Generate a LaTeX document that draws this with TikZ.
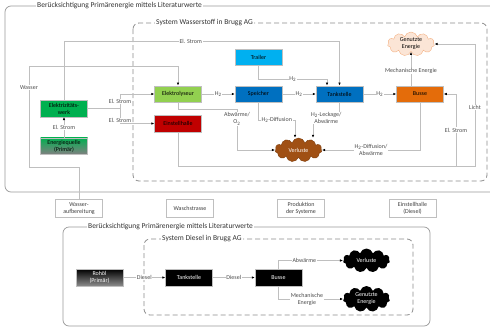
\documentclass[tikz,border=0pt]{standalone}
\usepackage{fontspec}
\setmainfont{Carlito}
\usetikzlibrary{arrows.meta,shapes.symbols}
\definecolor{linie}{RGB}{191,191,191}
\definecolor{werkgruen}{RGB}{0,176,80}
\definecolor{hellgruen}{RGB}{146,208,80}
\definecolor{hallenrot}{RGB}{192,0,0}
\definecolor{hellblau}{RGB}{0,176,240}
\definecolor{blau}{RGB}{0,112,192}
\definecolor{busorange}{RGB}{228,108,10}
\definecolor{pfirsich}{RGB}{251,229,214}
\definecolor{pfirsichrand}{RGB}{244,177,131}
\definecolor{braun}{RGB}{160,80,20}
\begin{document}
\begin{tikzpicture}[x=1pt,y=-1pt]
\tikzset{
kasten/.style={draw=white!75!black,line width=0.5pt,minimum width=47pt,minimum height=16.5pt,inner sep=1pt,font=\fontsize{6}{7}\selectfont,align=center},
aussen/.style={kasten,fill=white,text=black!75,minimum height=18pt},
wolke/.style={cloud,cloud puffs=11,cloud ignores aspect,minimum width=47pt,minimum height=24pt,inner sep=0pt,align=center,font=\fontsize{6}{7}\selectfont},
fluss/.style={draw=linie,line width=0.8pt,-{Latex[length=3pt,width=2.6pt,color=black]}},
leitung/.style={draw=linie,line width=0.8pt},
lbl/.style={fill=white,inner sep=0.6pt,font=\fontsize{6}{7}\selectfont,text=black!70,align=center},
rahmen/.style={draw=black!40,line width=0.7pt,rounded corners=6pt},
system/.style={draw=black!45,line width=0.8pt,dash pattern=on 5pt off 3pt,rounded corners=6pt},
titel/.style={fill=white,inner sep=1pt,font=\fontsize{7.5}{9}\selectfont,text=black!80,anchor=west}
}
\useasboundingbox (0,0) rectangle (490,327);
\draw[rahmen] (5,6) rectangle (520,192);
\node[titel] (titelA) at (36,6) {Berücksichtigung Primärenergie mittels Literaturwerte};
\draw[system] (133,23) rectangle (487,181);
\node[titel] (titelB) at (155,23) {System Wasserstoff in Brugg AG};
\node[kasten,fill=werkgruen] (werk) at (64,108.5) {Elektrizitäts-\\werk};
\node[kasten,top color=werkgruen,bottom color=black!50] (quelle) at (64,146) {Energiequelle\\(Primär)};
\node[kasten,fill=hellgruen] (ely) at (178,94) {Elektrolyseur};
\node[kasten,fill=hallenrot] (halle) at (178,123.5) {Einstellhalle};
\node[kasten,fill=hellblau] (trailer) at (258.5,57) {Trailer};
\node[kasten,fill=blau] (speicher) at (258.5,94) {Speicher};
\node[kasten,fill=blau] (tank) at (339.5,94) {Tankstelle};
\node[kasten,fill=busorange] (busse) at (420,94) {Busse};
\node[wolke,fill=pfirsich,draw=pfirsichrand] (nutzen) at (411,44) {Genutzte\\Energie};
\node[wolke,fill=braun,draw=braun!80!black,text=white] (verluste) at (298.5,150) {Verluste};
\node[aussen] (wasserauf) at (79,208.5) {Wasser-\\aufbereitung};
\node[aussen] (waschen) at (190,208.5) {Waschstrasse};
\node[aussen] (produktion) at (301,208.5) {Produktion\\der Systeme};
\node[aussen] (halleD) at (412.5,208.5) {Einstellhalle\\(Diesel)};
\coordinate (w1) at (29,167);
\coordinate (w2) at (29,66);
\draw[fluss] (wasserauf.north) |- (w1) -- node[lbl,pos=0.79]{Wasser} (w2) -| (ely.north);
\coordinate (s1) at (64,41);
\draw[fluss] (werk.north) -- (s1) -| node[lbl,pos=0.23]{El. Strom} (tank.north);
\coordinate (h1) at (327,79);
\draw[fluss] (trailer.south) |- node[lbl,pos=0.75]{H\textsubscript{2}} (h1) -- (h1 |- tank.north);
\draw[fluss] (ely) -- node[lbl]{H\textsubscript{2}} (speicher);
\draw[fluss] (speicher) -- node[lbl]{H\textsubscript{2}} (tank);
\draw[fluss] (tank) -- node[lbl]{H\textsubscript{2}} (busse);
\draw[fluss] (busse.north -| nutzen.south) -- node[lbl,pos=0.43]{Mechanische Energie} (nutzen.south);
\coordinate (e1) at (120,108.5);
\draw[leitung] (werk.east) -- (e1);
\draw[fluss] (e1) |- node[lbl,pos=0.25]{El. Strom} (ely.west);
\draw[fluss] (e1) |- node[lbl,pos=0.4]{El. Strom} (halle.west);
\draw[fluss] (quelle.north) -- node[lbl]{El. Strom} (werk.south);
\coordinate (a1) at (237,109);
\draw[fluss] (ely.south) |- (a1) |- node[lbl,pos=0.12]{Abwärme/\\O\textsubscript{2}} (verluste.west);
\coordinate (d1) at (295,120);
\draw[fluss] (speicher.south) |- node[lbl,pos=0.75]{H\textsubscript{2}-Diffusion} (d1) -- (d1 |- verluste.north);
\coordinate (k1) at (313,118);
\draw[fluss] (tank.south) |- node[lbl,pos=0.75]{H\textsubscript{2}-Leckage/\\Abwärme} (k1) -- (k1 |- verluste.north);
\draw[fluss] (busse.south) |- node[lbl,pos=0.75]{H\textsubscript{2}-Diffusion/\\Abwärme} (verluste.east);
\coordinate (l1) at (475,166);
\coordinate (l2) at (456,166);
\draw[fluss] (halle.south) |- (l1) |- node[lbl,pos=0.24]{Licht} (nutzen.east);
\draw[fluss] (l2) |- node[lbl,pos=0.25]{El. Strom} (busse.east);
\draw[rahmen] (63,227) rectangle (430,326);
\node[titel] (titelC) at (87,227) {Berücksichtigung Primärenergie mittels Literaturwerte};
\draw[system] (144,239) rectangle (413,315);
\node[titel] (titelD) at (161,239) {System Diesel in Brugg AG};
\node[kasten,top color=black,bottom color=black!45,text=white,minimum height=17pt] (rohoel) at (99.5,277.5) {Rohöl\\(Primär)};
\node[kasten,fill=black,text=white,minimum height=17pt] (tankD) at (189,277.5) {Tankstelle};
\node[kasten,fill=black,text=white,minimum height=17pt] (busseD) at (278.5,277.5) {Busse};
\node[wolke,fill=black,text=white] (verlusteD) at (366.5,260.5) {Verluste};
\node[wolke,fill=black,text=white,minimum height=26pt] (nutzenD) at (366.5,299) {Genutzte\\Energie};
\draw[fluss] (rohoel) -- node[lbl]{Diesel} (tankD);
\draw[fluss] (tankD) -- node[lbl]{Diesel} (busseD);
\draw[fluss] (busseD.north) |- node[lbl,pos=0.7]{Abwärme} (verlusteD.west);
\draw[fluss] (busseD.south) |- node[lbl,pos=0.72]{Mechanische\\Energie} (nutzenD.west);
\end{tikzpicture}
\end{document}
